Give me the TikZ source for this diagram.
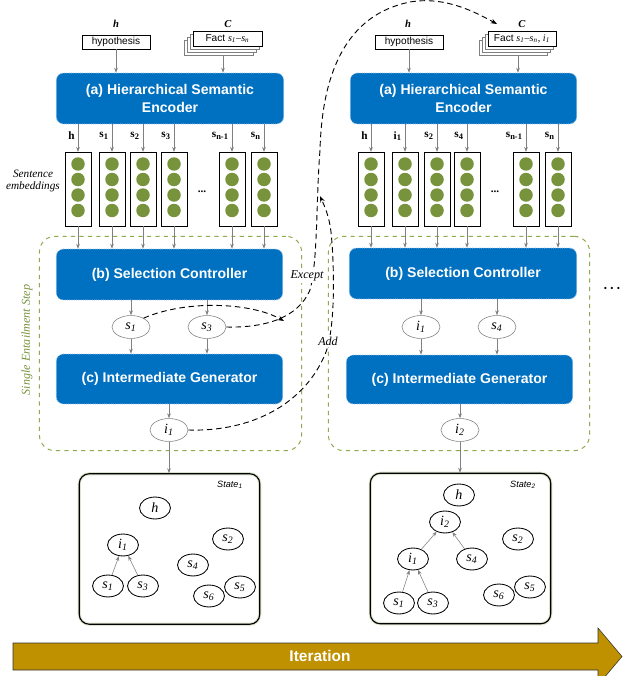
\documentclass[tikz,border=0pt]{standalone}
\usepackage{fontspec}
\setmainfont{Liberation Serif}
\setsansfont{Liberation Sans}
\usetikzlibrary{shapes.geometric,arrows.meta}

\definecolor{azul}{RGB}{0,112,192}
\definecolor{borde}{RGB}{120,175,225}
\definecolor{oliva}{RGB}{119,147,60}
\definecolor{verde}{RGB}{143,170,80}
\definecolor{oro}{RGB}{191,144,0}

\newcommand{\el}[2]{\textit{#1}\textsubscript{\textit{#2}}}

\tikzstyle{modulo}= [rectangle,rounded corners=5pt,fill=azul,draw=borde,densely dotted,line width=0.6pt,text=white,font=\sffamily\bfseries\fontsize{10}{13}\selectfont,align=center]
\tikzstyle{caja}= [rectangle,draw=black,fill=white,inner sep=0pt,font=\sffamily\fontsize{7.2}{8}\selectfont]
\tikzstyle{tit}= [font=\bfseries\itshape\fontsize{7.5}{8}\selectfont]
\tikzstyle{etq}= [anchor=east,inner sep=0pt,font=\bfseries\fontsize{8}{9}\selectfont]
\tikzstyle{col}= [rectangle,draw=black,minimum width=18.4pt,minimum height=52.4pt]
\tikzstyle{bola}= [circle,fill=oliva,minimum size=9.6pt,inner sep=0pt]
\tikzstyle{elip}= [ellipse,draw=gray,fill=white,minimum width=27pt,minimum height=16.3pt,inner sep=0pt,font=\fontsize{10}{10}\selectfont]
\tikzstyle{nodo}= [ellipse,draw=black,line width=0.6pt,minimum width=22pt,minimum height=15.6pt,inner sep=0pt,font=\fontsize{10}{10}\selectfont]
\tikzstyle{estado}= [rectangle,rounded corners=7pt,draw=black,line width=0.8pt,preaction={draw=oliva!25,line width=2.2pt},minimum width=128.3pt,minimum height=107pt]
\tikzstyle{paso}= [rectangle,rounded corners=11pt,draw=verde,dashed,line width=0.7pt,minimum height=152.4pt]
\tikzstyle{nota}= [fill=white,inner sep=1pt,font=\itshape\fontsize{8.6}{9}\selectfont]
\tikzstyle{flecha}= [gray,-{Stealth[length=3.5pt,width=2.6pt]}]
\tikzstyle{salto}= [black,line width=0.65pt,dash pattern=on 4pt off 2.6pt,-{Stealth[length=4.5pt,width=3.4pt]}]

\begin{document}
\begin{tikzpicture}[x=0.025cm,y=-0.025cm]
		\useasboundingbox (0,0) rectangle (623,676);

		% entailment steps
		\node (pasoL) at (170.5,343.5) [paso,minimum width=186.4pt] {};
		\node (pasoR) at (459,343.5) [paso,minimum width=185.7pt] {};
		\node (single) at (27,340) [rotate=90,text=oliva,font=\itshape\fontsize{8.6}{9}\selectfont] {Single Entailment Step};

		% first iteration
		\node (hL) at (116,24) [tit] {h};
		\node (hipL) at (116,42) [caja,minimum width=48.2pt,minimum height=9.9pt] {hypothesis};
		\node (cL) at (228,24) [tit] {C};
		\foreach \d in {9,6,3} \draw[gray,fill=white] (193-\d,31+\d) rectangle (262-\d,46+\d);
		\node (factL) at (227.5,38.5) [caja,minimum width=48.9pt,minimum height=10.6pt] {Fact {\rmfamily\el{s}{1}–\el{s}{n}}};
		\coordinate (pilaL) at (223,56);

		\node (encL) at (170,98.5) [modulo,minimum width=161.6pt,minimum height=36.1pt] {(a) Hierarchical Semantic\\Encoder};
		\node (selL) at (169.5,274.5) [modulo,minimum width=160.9pt,minimum height=36.1pt] {(b) Selection Controller};
		\node (genL) at (169.5,379) [modulo,minimum width=160.9pt,minimum height=35.4pt] {(c) Intermediate Generator};

		\path[flecha] (hipL) edge (hipL |- encL.north);
		\path[flecha] (pilaL) edge (pilaL |- encL.north);

		\foreach \x/\lab/\n in {78/h/1,112/s\textsubscript{1}/2,143/s\textsubscript{2}/3,174/s\textsubscript{3}/4,232/s\textsubscript{n-1}/5,264/s\textsubscript{n}/6} {
			\node (cL\n) at (\x,189) [col] {};
			\foreach \y [count=\k] in {164,179.5,195,210.5} \node (bL\n-\k) at (\x,\y) [bola] {};
			\node (lL\n) at (\x-3,136) [etq] {\lab};
			\path[flecha] (cL\n |- encL.south) edge (cL\n.north);
			\path[flecha] (cL\n.south) edge (cL\n |- selL.north);
		}
		\node (ptsL) at (202,192) [font=\bfseries\fontsize{8}{9}\selectfont] {...};
		\node (emb) at (33,181) [align=center,font=\itshape\fontsize{8}{8.5}\selectfont] {Sentence\\embeddings};

		\node (sL1) at (131,327) [elip] {\el{s}{1}};
		\node (sL3) at (207,327) [elip] {\el{s}{3}};
		\node (iL) at (169,430) [elip] {\el{i}{1}};
		\path[flecha] (sL1 |- selL.south) edge (sL1.north);
		\path[flecha] (sL3 |- selL.south) edge (sL3.north);
		\path[flecha] (sL1.south) edge (sL1 |- genL.north);
		\path[flecha] (sL3.south) edge (sL3 |- genL.north);
		\path[flecha] (iL |- genL.south) edge (iL.north);

		\node (stL) at (169.5,549) [estado] {};
		\path[flecha] (iL.south) edge (iL |- stL.north);
		\node (estL) at (230,485) [font=\sffamily\itshape\fontsize{6.5}{7}\selectfont] {State\textsubscript{1}};
		\node (xh) at (155,508) [nodo] {\textit{h}};
		\node (xi1) at (123,545) [nodo] {\el{i}{1}};
		\node (xs1) at (108,586) [nodo] {\el{s}{1}};
		\node (xs3) at (143,586) [nodo] {\el{s}{3}};
		\node (xs2) at (228,539) [nodo] {\el{s}{2}};
		\node (xs4) at (193,565) [nodo] {\el{s}{4}};
		\node (xs6) at (209,596) [nodo] {\el{s}{6}};
		\node (xs5) at (240,587) [nodo] {\el{s}{5}};
		\path[flecha] (xs1) edge (xi1);
		\path[flecha] (xs3) edge (xi1);

		% second iteration
		\node (hR) at (408,24) [tit] {h};
		\node (hipR) at (409,42) [caja,minimum width=48.2pt,minimum height=9.9pt] {hypothesis};
		\node (cR) at (522,24) [tit] {C};
		\foreach \d in {9,6,3} \draw[gray,fill=white] (488-\d,31+\d) rectangle (556-\d,46+\d);
		\node (factR) at (522,38.5) [caja,minimum width=48.2pt,minimum height=10.6pt] {Fact {\rmfamily\el{s}{1}–\el{s}{n}, \el{i}{1}}};
		\coordinate (pilaR) at (518,56);

		\node (encR) at (463.5,98.5) [modulo,minimum width=160.9pt,minimum height=36.1pt] {(a) Hierarchical Semantic\\Encoder};
		\node (selR) at (463,273.5) [modulo,minimum width=161.6pt,minimum height=36.1pt] {(b) Selection Controller};
		\node (genR) at (459.5,379.5) [modulo,minimum width=160.9pt,minimum height=34.7pt] {(c) Intermediate Generator};

		\path[flecha] (hipR) edge (hipR |- encR.north);
		\path[flecha] (pilaR) edge (pilaR |- encR.north);

		\foreach \x/\lab/\n in {371/h/1,405/i\textsubscript{1}/2,437/s\textsubscript{2}/3,467/s\textsubscript{4}/4,526/s\textsubscript{n-1}/5,558/s\textsubscript{n}/6} {
			\node (cR\n) at (\x,189) [col] {};
			\foreach \y [count=\k] in {164,179.5,195,210.5} \node (bR\n-\k) at (\x,\y) [bola] {};
			\node (lR\n) at (\x-3,136) [etq] {\lab};
			\path[flecha] (cR\n |- encR.south) edge (cR\n.north);
			\path[flecha] (cR\n.south) edge (cR\n |- selR.north);
		}
		\node (ptsR) at (495,192) [font=\bfseries\fontsize{8}{9}\selectfont] {...};

		\node (iR1) at (421,327) [elip] {\el{i}{1}};
		\node (sR4) at (497,327) [elip] {\el{s}{4}};
		\node (iR2) at (460,430) [elip] {\el{i}{2}};
		\path[flecha] (iR1 |- selR.south) edge (iR1.north);
		\path[flecha] (sR4 |- selR.south) edge (sR4.north);
		\path[flecha] (iR1.south) edge (iR1 |- genR.north);
		\path[flecha] (sR4.south) edge (sR4 |- genR.north);
		\path[flecha] (iR2 |- genR.south) edge (iR2.north);

		\node (stR) at (460.5,548.5) [estado] {};
		\path[flecha] (iR2.south) edge (iR2 |- stR.north);
		\node (estR) at (523,485) [font=\sffamily\itshape\fontsize{6.5}{7}\selectfont] {State\textsubscript{2}};
		\node (yh) at (459,495) [nodo] {\textit{h}};
		\node (yi2) at (445,522) [nodo] {\el{i}{2}};
		\node (yi1) at (413,559) [nodo] {\el{i}{1}};
		\node (ys4) at (472,559) [nodo] {\el{s}{4}};
		\node (ys2) at (518,539) [nodo] {\el{s}{2}};
		\node (ys1) at (399,603) [nodo] {\el{s}{1}};
		\node (ys3) at (433,603) [nodo] {\el{s}{3}};
		\node (ys6) at (499,595) [nodo] {\el{s}{6}};
		\node (ys5) at (530,587) [nodo] {\el{s}{5}};
		\path[flecha] (ys1) edge (yi1);
		\path[flecha] (ys3) edge (yi1);
		\path[flecha] (yi1) edge (yi2);
		\path[flecha] (ys4) edge (yi2);

		\node (mas) at (612,289) [font=\fontsize{6.5}{6.5}\selectfont] {\textbullet\hspace{2.3pt}\textbullet\hspace{2.3pt}\textbullet};

		% except / add
		\coordinate (juntaL) at (284,321);
		\coordinate (uneL) at (320,196);
		\coordinate (entraR) at (497,24);
		\draw[salto] (sL1.35) .. controls (185,300) and (250,302) .. (juntaL);
		\draw[salto] (sL3.east) .. controls (265,328) and (298,318) .. (310,290) .. controls (318,260) and (316,200) .. (320,150) .. controls (322,75) and (345,15) .. (410,2) .. controls (445,-4) and (475,12) .. (entraR);
		\draw[salto] (iL.east) .. controls (250,432) and (305,405) .. (326,352) .. controls (336,325) and (334,260) .. (331,232) .. controls (329,215) and (324,205) .. (uneL);
		\node (except) at (307,276) [nota] {Except};
		\node (add) at (328,341) [nota] {Add};

		% iteration
		\draw[fill=oro,draw=black!80] (13,643) -- (598,643) -- (598,628) -- (622,656.5) -- (598,685) -- (598,670) -- (13,670) -- cycle;
		\node (iter) at (320,656) [text=white,font=\sffamily\bfseries\fontsize{11}{12}\selectfont] {Iteration};

\end{tikzpicture}
\end{document}
